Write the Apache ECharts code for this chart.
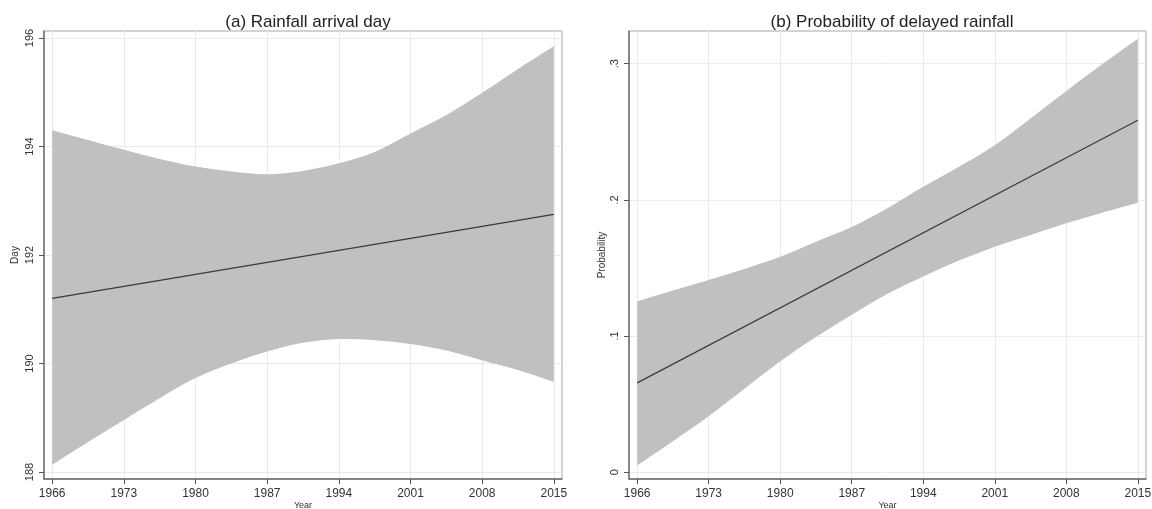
<!DOCTYPE html>
<html>
<head>
<meta charset="utf-8">
<script src="https://cdn.jsdelivr.net/npm/echarts@6/dist/echarts.min.js"></script>
<style>
html,body{margin:0;padding:0;background:#fff;}
#c{width:1152px;height:509px;}
</style>
</head>
<body>
<div id="c"></div>
<script>
// ---- data ----
const yearTicks = [1966, 1973, 1980, 1987, 1994, 2001, 2008, 2015];
const dayTicks = [188, 190, 192, 194, 196];
const probTicks = [0, 0.1, 0.2, 0.3];

const bandYears = [1966, 1969.5, 1973, 1976.5, 1980, 1983.5, 1987, 1990.5, 1994, 1997.5, 2001, 2004.5, 2008, 2011.5, 2015];

// (a) Rainfall arrival day
const dayUpper = [194.30, 194.12, 193.94, 193.77, 193.63, 193.54, 193.49, 193.55, 193.69, 193.90, 194.24, 194.58, 194.99, 195.43, 195.85];
const dayLower = [188.13, 188.55, 188.96, 189.36, 189.73, 190.00, 190.22, 190.38, 190.45, 190.43, 190.36, 190.24, 190.06, 189.88, 189.66];
const dayFitYears = [1966, 2015];
const dayFit = [191.20, 192.75];

// (b) Probability of delayed rainfall
const probUpper = [0.1254, 0.1334, 0.1412, 0.1493, 0.1583, 0.1693, 0.1800, 0.1938, 0.2096, 0.2243, 0.2401, 0.2597, 0.2799, 0.2995, 0.3183];
const probLower = [0.0050, 0.0228, 0.0411, 0.0612, 0.0814, 0.0993, 0.1156, 0.1310, 0.1437, 0.1554, 0.1656, 0.1742, 0.1828, 0.1906, 0.1979];
const probFitYears = [1966, 2015];
const probFit = [0.0656, 0.2585];

// ---- chart ----
const FONT = '"Liberation Sans", Arial, sans-serif';
const gridColor = '#ebebeb';
const axisColor = '#6e6e6e';
const labelColor = '#333';

function xAxisFor(gi) {
  return {
    type: 'value', gridIndex: gi, min: 1965.2, max: 2015.8,
    name: 'Year', nameLocation: 'middle', nameGap: 22, nameMoveOverlap: false,
    nameTextStyle: {fontFamily: FONT, fontSize: 9, color: labelColor},
    axisLine: {show: true, onZero: false, lineStyle: {color: axisColor, width: 1.5}},
    axisTick: {show: true, inside: false, length: 5, customValues: yearTicks, lineStyle: {color: '#555', width: 1}},
    axisLabel: {customValues: yearTicks, fontFamily: FONT, fontSize: 12, color: labelColor, margin: 9,
      formatter: v => String(v)},
    splitLine: {show: true, lineStyle: {color: gridColor, width: 1}}
  };
}
function yAxisFor(gi, min, max, ticks, name, nameGap, fmt) {
  return {
    type: 'value', gridIndex: gi, min: min, max: max,
    name: name, nameLocation: 'middle', nameGap: nameGap, nameRotate: 90, nameMoveOverlap: false,
    nameTextStyle: {fontFamily: FONT, fontSize: 10, color: labelColor},
    axisLine: {show: true, onZero: false, lineStyle: {color: axisColor, width: 1.5}},
    axisTick: {show: true, inside: false, length: 5, customValues: ticks, lineStyle: {color: '#555', width: 1}},
    axisLabel: {customValues: ticks, rotate: 90, fontFamily: FONT, fontSize: 11, color: labelColor, margin: 9,
      formatter: fmt},
    splitLine: {show: true, lineStyle: {color: gridColor, width: 1}}
  };
}
function pairs(xs, ys) { return xs.map((x, i) => [x, ys[i]]); }

// smooth band path (Catmull-Rom -> cubic Bezier) through the read points, in pixel space via api.coord
function smoothSeg(pts) {
  let d = '';
  for (let i = 0; i < pts.length - 1; i++) {
    const p0 = pts[Math.max(0, i - 1)], p1 = pts[i], p2 = pts[i + 1], p3 = pts[Math.min(pts.length - 1, i + 2)];
    const c1x = p1[0] + (p2[0] - p0[0]) / 6, c1y = p1[1] + (p2[1] - p0[1]) / 6;
    const c2x = p2[0] - (p3[0] - p1[0]) / 6, c2y = p2[1] - (p3[1] - p1[1]) / 6;
    d += ' C' + c1x + ' ' + c1y + ' ' + c2x + ' ' + c2y + ' ' + p2[0] + ' ' + p2[1];
  }
  return d;
}
function bandSeries(gi, xs, up, lo) {
  return {
    type: 'custom', xAxisIndex: gi, yAxisIndex: gi, silent: true, z: 1,
    data: xs.map((x, i) => [x, lo[i], up[i]]),
    encode: {x: 0, y: [1, 2]},
    clip: true,
    renderItem: function (params, api) {
      if (params.dataIndex !== 0) return null;
      const upPts = xs.map((x, i) => api.coord([x, up[i]]));
      const loPts = xs.map((x, i) => api.coord([x, lo[i]])).reverse();
      let d = 'M' + upPts[0][0] + ' ' + upPts[0][1] + smoothSeg(upPts);
      d += ' L' + loPts[0][0] + ' ' + loPts[0][1] + smoothSeg(loPts) + ' Z';
      return {
        type: 'path',
        shape: {pathData: d},
        style: {fill: '#c0c0c0', stroke: null}
      };
    }
  };
}

const option = {
  backgroundColor: '#fff',
  animation: false,
  title: [
    {text: '(a) Rainfall arrival day', left: 303, top: 9, textAlign: 'center',
      textStyle: {fontFamily: FONT, fontSize: 17, fontWeight: 'normal', color: '#222'}},
    {text: '(b) Probability of delayed rainfall', left: 887, top: 9, textAlign: 'center',
      textStyle: {fontFamily: FONT, fontSize: 17, fontWeight: 'normal', color: '#222'}}
  ],
  grid: [
    {left: 44, top: 31, width: 518, height: 448, show: true, borderColor: '#a6a6a6', borderWidth: 1,
      containLabel: false, outerBoundsMode: 'none'},
    {left: 629, top: 31, width: 517, height: 448, show: true, borderColor: '#a6a6a6', borderWidth: 1,
      containLabel: false, outerBoundsMode: 'none'}
  ],
  xAxis: [xAxisFor(0), xAxisFor(1)],
  yAxis: [
    yAxisFor(0, 187.87, 196.13, dayTicks, 'Day', 24, v => String(v)),
    yAxisFor(1, -0.005, 0.324, probTicks, 'Probability', 22, v => v === 0 ? '0' : String(+v.toFixed(1)).replace(/^0/, ''))
  ],
  series: [
    bandSeries(0, bandYears, dayUpper, dayLower),
    {type: 'line', xAxisIndex: 0, yAxisIndex: 0, data: pairs(dayFitYears, dayFit), z: 3,
      symbol: 'none', lineStyle: {color: '#3a3a3a', width: 1.2}, silent: true},
    bandSeries(1, bandYears, probUpper, probLower),
    {type: 'line', xAxisIndex: 1, yAxisIndex: 1, data: pairs(probFitYears, probFit), z: 3,
      symbol: 'none', lineStyle: {color: '#3a3a3a', width: 1.2}, silent: true}
  ]
};

const chart = echarts.init(document.getElementById('c'), null, {renderer: 'canvas'});
chart.setOption(option);
</script>
</body>
</html>
